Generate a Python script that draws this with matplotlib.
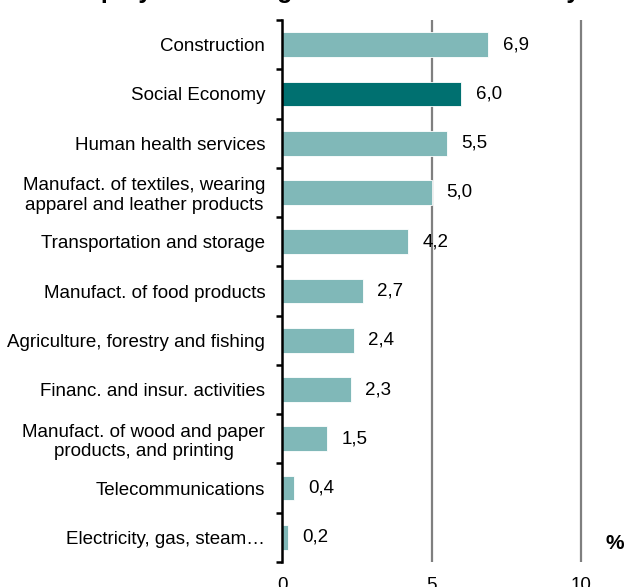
import matplotlib.pyplot as plt
import numpy as np

plt.rcParams["font.family"] = ["Liberation Sans", "DejaVu Sans"]

SECTORS = [
    "Construction",
    "Social Economy",
    "Human health services",
    "Manufact. of textiles, wearing\napparel and leather products",
    "Transportation and storage",
    "Manufact. of food products",
    "Agriculture, forestry and fishing",
    "Financ. and insur. activities",
    "Manufact. of wood and paper\nproducts, and printing",
    "Telecommunications",
    "Electricity, gas, steam\u2026",
]
GROWTH = [6.9, 6.0, 5.5, 5.0, 4.2, 2.7, 2.4, 2.3, 1.5, 0.4, 0.2]
HIGHLIGHT = "Social Economy"
X_TICKS = [0, 5, 10]

LIGHT = "#80B8B8"
DARK = "#007070"

fig = plt.figure(figsize=(6.27, 5.87), dpi=100)
ax = fig.add_axes([0.4498, 0.0426, 0.5247, 0.9233])

y = np.arange(len(SECTORS))
colors = [DARK if s == HIGHLIGHT else LIGHT for s in SECTORS]
ax.barh(y, GROWTH, height=0.5, color=colors, edgecolor="white",
        linewidth=0.6, zorder=3)

for yi, v in zip(y, GROWTH):
    ax.annotate(f"{v:.1f}".replace(".", ","), (v, yi), xytext=(10.5, 0),
                textcoords="offset points", va="center", ha="left",
                fontsize=13.5, zorder=4)

ax.set_xlim(0, 11)
ax.set_ylim(len(SECTORS) - 0.5, -0.5)
ax.set_xticks(X_TICKS)
ax.set_xticklabels([str(t) for t in X_TICKS])
ax.tick_params(axis="x", length=0, labelsize=13.5, pad=11)
for t in X_TICKS[1:]:
    ax.axvline(t, color="#7f7f7f", linewidth=1.6, zorder=1)

ax.set_yticks(y)
ax.set_yticklabels(SECTORS, fontsize=13.5, multialignment="center")
ax.tick_params(axis="y", which="major", length=0, pad=12)
ax.set_yticks(np.arange(len(SECTORS) + 1) - 0.5, minor=True)
ax.tick_params(axis="y", which="minor", length=4, width=1.8,
               direction="out", color="black")

for side in ["top", "right", "bottom"]:
    ax.spines[side].set_visible(False)
ax.spines["left"].set_linewidth(1.8)
ax.spines["left"].set_zorder(5)

ax.text(1.012, 0.034, "%", transform=ax.transAxes, fontsize=15,
        fontweight="bold", ha="center", va="center")

fig.text(0.512, 1.004, "Employment change in the Social Economy",
         ha="center", va="baseline", fontsize=18, fontweight="bold")

fig.savefig("out.png", dpi=100)
